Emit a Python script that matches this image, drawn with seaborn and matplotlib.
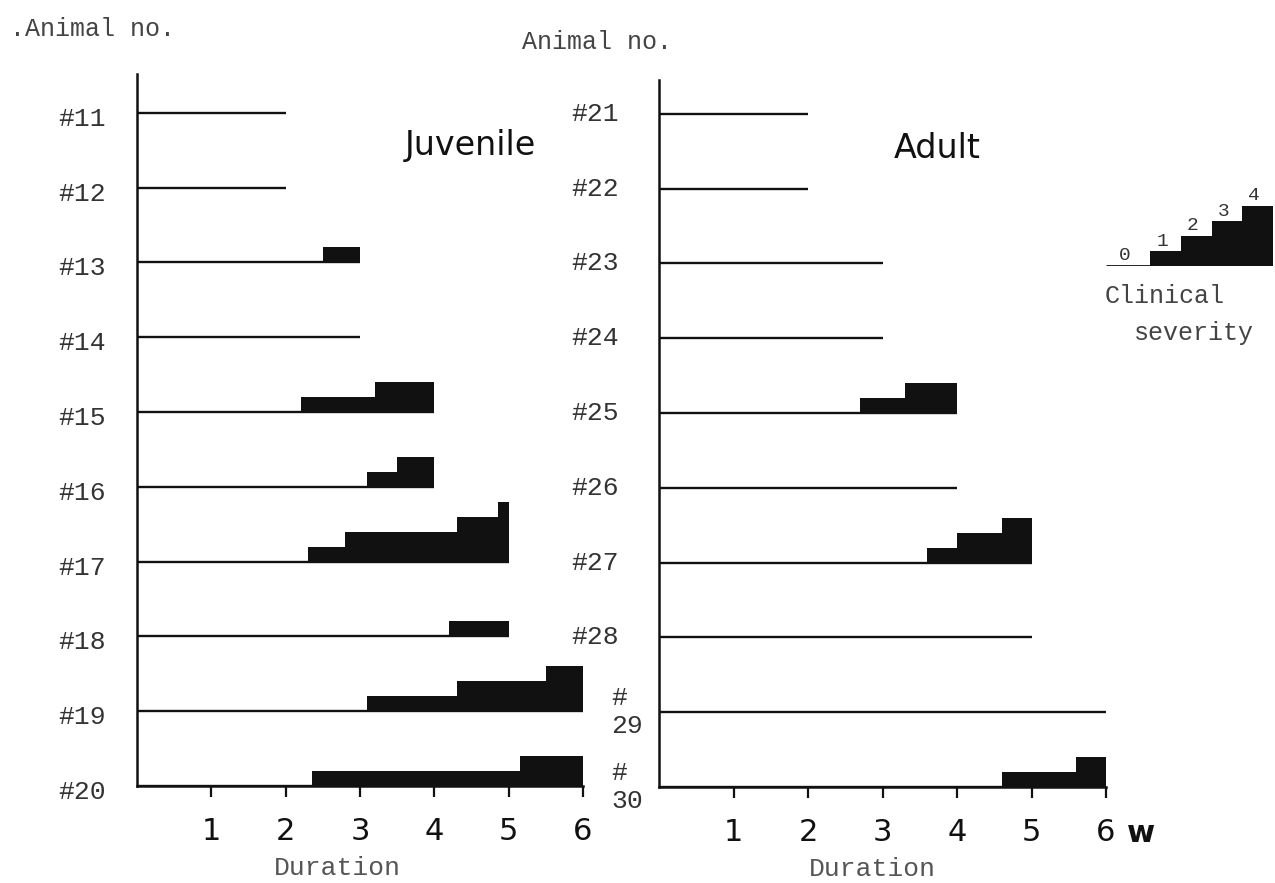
import matplotlib
matplotlib.use("Agg")
import matplotlib.pyplot as plt
import seaborn as sns

# ---- data (weeks) ----
juv_ids = [11, 12, 13, 14, 15, 16, 17, 18, 19, 20]
juv_duration = [2, 2, 3, 3, 4, 4, 5, 5, 6, 6]
# severity segments: animal, start week, end week, clinical level
juv_seg_animal = [13, 15, 15, 16, 16, 17, 17, 17, 17, 18, 19, 19, 19, 20, 20]
juv_seg_start = [2.5, 2.2, 3.2, 3.1, 3.5, 2.3, 2.8, 4.3, 4.85, 4.2, 3.1, 4.3, 5.5, 2.35, 5.15]
juv_seg_end = [3.0, 3.2, 4.0, 3.5, 4.0, 2.8, 4.3, 4.85, 5.0, 5.0, 4.3, 5.5, 6.0, 5.15, 6.0]
juv_seg_level = [1, 1, 2, 1, 2, 1, 2, 3, 4, 1, 1, 2, 3, 1, 2]

adu_ids = [21, 22, 23, 24, 25, 26, 27, 28, 29, 30]
adu_duration = [2, 2, 3, 3, 4, 4, 5, 5, 6, 6]
adu_seg_animal = [25, 25, 27, 27, 27, 30, 30]
adu_seg_start = [2.7, 3.3, 3.6, 4.0, 4.6, 4.6, 5.6]
adu_seg_end = [3.3, 4.0, 4.0, 4.6, 5.0, 5.6, 6.0]
adu_seg_level = [1, 2, 1, 2, 3, 1, 2]

week_ticks = [1, 2, 3, 4, 5, 6]
legend_levels = [0, 1, 2, 3, 4]

LEVEL_H = 0.2   # height of one severity level, in row units
INK = "#111111"
MONO = ["Liberation Mono", "DejaVu Sans Mono"]

sns.set_style("white")
plt.rcParams["font.family"] = ["DejaVu Sans"]

W, H = 1275, 883
fig = plt.figure(figsize=(W / 100, H / 100), dpi=100)


def px_axes(x0, x1, y_top, y_bot):
    return fig.add_axes([x0 / W, 1 - y_bot / H, (x1 - x0) / W, (y_bot - y_top) / H])


def draw_panel(ax, ids, duration, s_animal, s_start, s_end, s_level, row_px):
    n = len(ids)
    base = {a: n - 1 - i for i, a in enumerate(ids)}
    ax.hlines([base[a] for a in ids], 0, duration, color=INK, lw=1.7)
    for a, s, e, lv in zip(s_animal, s_start, s_end, s_level):
        ax.bar(s, lv * LEVEL_H, width=e - s, bottom=base[a], align="edge",
               color=INK, linewidth=0)
    ax.set_xlim(0, 6)
    ax.set_ylim(0, row_px)
    ax.set_xticks(week_ticks)
    ax.set_xticklabels([str(t) for t in week_ticks])
    ax.set_yticks([])
    ax.tick_params(axis="x", direction="out", length=8, width=1.6, pad=14,
                   labelsize=22, colors=INK, bottom=True)
    sns.despine(ax=ax)
    for sp in ("left", "bottom"):
        ax.spines[sp].set_linewidth(1.8)
        ax.spines[sp].set_color(INK)
    return base


axL = px_axes(137, 583, 74, 786)
baseL = draw_panel(axL, juv_ids, juv_duration, juv_seg_animal, juv_seg_start,
                   juv_seg_end, juv_seg_level, 712 / 74.8)
for a in juv_ids:
    axL.text(-0.42, baseL[a] - 0.08, f"#{a}", ha="right", va="center",
             fontsize=19, family=MONO, color="#333333")

axR = px_axes(659, 1106, 80, 787)
baseR = draw_panel(axR, adu_ids, adu_duration, adu_seg_animal, adu_seg_start,
                   adu_seg_end, adu_seg_level, 707 / 74.8)
for a in adu_ids:
    if a >= 29:
        axR.text(-0.64, baseR[a], f"#\n{a}", ha="left", va="center",
                 multialignment="left", linespacing=1.2,
                 fontsize=19, family=MONO, color="#333333")
    else:
        axR.text(-0.54, baseR[a] + 0.0, f"#{a}", ha="right", va="center",
                 fontsize=19, family=MONO, color="#333333")

# titles and axis texts
fig.text(470 / W, 1 - 145 / H, "Juvenile", ha="center", va="center",
         fontsize=24, color=INK)
fig.text(937 / W, 1 - 148 / H, "Adult", ha="center", va="center",
         fontsize=24, color=INK)
fig.text(10 / W, 1 - 29 / H, ".Animal no.", ha="left", va="center",
         fontsize=18, family=MONO, color="#444444")
fig.text(522 / W, 1 - 42 / H, "Animal no.", ha="left", va="center",
         fontsize=18, family=MONO, color="#444444")
fig.text(337 / W, 1 - 868 / H, "Duration", ha="center", va="center",
         fontsize=19, family=MONO, color="#555555")
fig.text(872 / W, 1 - 869 / H, "Duration", ha="center", va="center",
         fontsize=19, family=MONO, color="#555555")
fig.text(1141 / W, 1 - 834 / H, "w", ha="center", va="center",
         fontsize=22, fontweight="bold", color=INK)

# clinical severity key
axK = px_axes(1106, 1273, 200, 266)
axK.set_xlim(-0.45, 5)
axK.set_ylim(0, 4.4)
axK.axis("off")
axK.hlines(0, -0.45, 1, color=INK, lw=2)
for lv in legend_levels:
    if lv > 0:
        axK.bar(lv, lv, width=1, bottom=0, align="edge", color=INK,
                linewidth=0, clip_on=False)
    xt = 0.15 if lv == 0 else lv + 0.38
    axK.text(xt, lv + 0.1, str(lv), ha="center", va="bottom", fontsize=14,
             family=MONO, color="#333333", clip_on=False)
fig.text(1105 / W, 1 - 296 / H, "Clinical", ha="left", va="center",
         fontsize=18, family=MONO, color="#444444")
fig.text(1134 / W, 1 - 333 / H, "severity", ha="left", va="center",
         fontsize=18, family=MONO, color="#444444")

fig.savefig("out.png", dpi=100)
